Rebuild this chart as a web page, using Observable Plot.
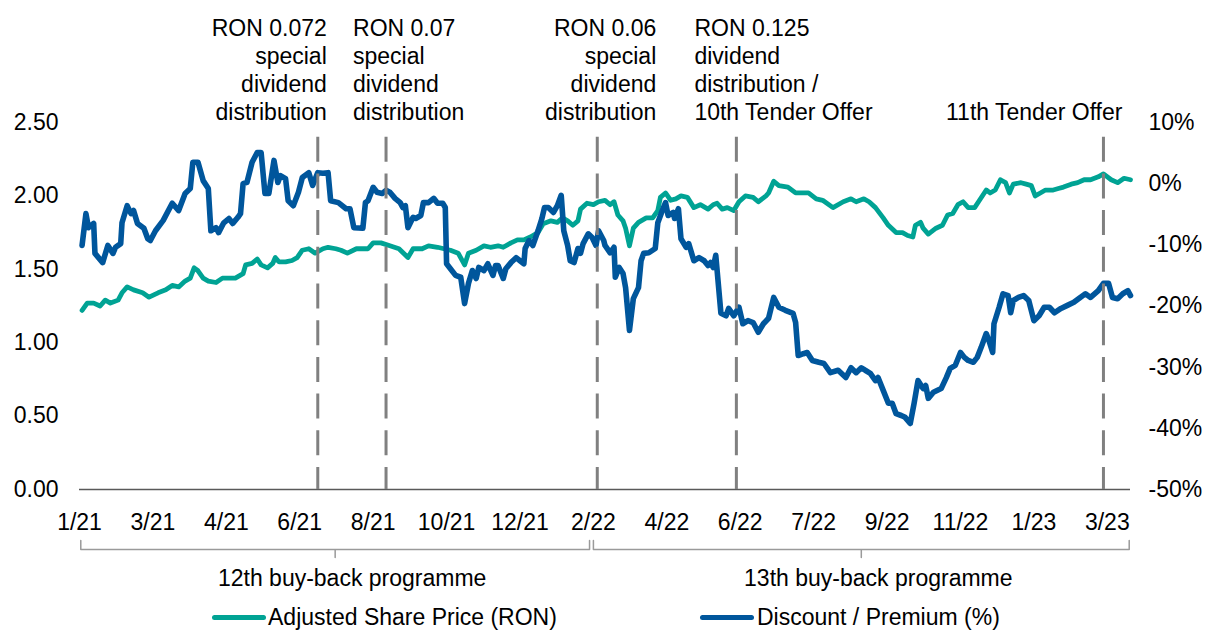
<!DOCTYPE html>
<html>
<head>
<meta charset="utf-8">
<script src="https://cdn.jsdelivr.net/npm/d3@7"></script>
<script src="https://cdn.jsdelivr.net/npm/@observablehq/plot@0.6"></script>
<style>
html, body { margin: 0; padding: 0; background: #fff; overflow: hidden; }
body { font-family: Arial, "Liberation Sans", sans-serif; }
#legend { position: relative; width: 1215px; height: 38px; font-size: 23px; color: #000; }
#legend .sw { position: absolute; top: 20px; height: 5px; width: 54px; border-radius: 3px; }
#legend .lt { position: absolute; top: 8px; line-height: 28px; white-space: nowrap; }
</style>
</head>
<body>
<div id="chart"></div>
<div id="legend"></div>
<script>
// ---------- data ----------
const seriesNames = ["Adjusted Share Price (RON)", "Discount / Premium (%)"];
const seriesColors = ["#00A394", "#00569C"];

// Adjusted share price (RON), left axis
const priceSeries = [["2021-01-06",1.22],["2021-01-10",1.27],["2021-01-15",1.27],["2021-01-20",1.25],["2021-01-24",1.29],["2021-01-28",1.27],["2021-02-03",1.29],["2021-02-06",1.34],["2021-02-10",1.38],["2021-02-15",1.36],["2021-02-22",1.34],["2021-02-27",1.31],["2021-03-06",1.34],["2021-03-12",1.36],["2021-03-17",1.39],["2021-03-22",1.38],["2021-03-27",1.42],["2021-03-31",1.44],["2021-04-03",1.51],["2021-04-06",1.49],["2021-04-10",1.44],["2021-04-14",1.42],["2021-04-20",1.41],["2021-04-25",1.44],["2021-04-30",1.44],["2021-05-05",1.44],["2021-05-11",1.47],["2021-05-13",1.53],["2021-05-18",1.54],["2021-05-22",1.57],["2021-05-25",1.53],["2021-05-30",1.51],["2021-06-03",1.54],["2021-06-05",1.58],["2021-06-08",1.55],["2021-06-13",1.55],["2021-06-18",1.56],["2021-06-22",1.58],["2021-06-26",1.63],["2021-07-01",1.64],["2021-07-06",1.61],["2021-07-12",1.64],["2021-07-16",1.65],["2021-07-22",1.64],["2021-07-26",1.63],["2021-07-31",1.61],["2021-08-07",1.64],["2021-08-16",1.64],["2021-08-20",1.68],["2021-08-26",1.68],["2021-09-02",1.66],["2021-09-09",1.64],["2021-09-16",1.58],["2021-09-20",1.64],["2021-09-27",1.64],["2021-10-02",1.66],["2021-10-09",1.65],["2021-10-14",1.64],["2021-10-19",1.63],["2021-10-25",1.61],["2021-10-30",1.53],["2021-11-02",1.61],["2021-11-08",1.63],["2021-11-14",1.66],["2021-11-19",1.65],["2021-11-25",1.66],["2021-11-29",1.65],["2021-12-05",1.68],["2021-12-10",1.70],["2021-12-15",1.70],["2021-12-20",1.72],["2021-12-26",1.75],["2021-12-30",1.81],["2022-01-05",1.83],["2022-01-10",1.82],["2022-01-14",1.85],["2022-01-18",1.83],["2022-01-22",1.80],["2022-01-26",1.83],["2022-01-28",1.91],["2022-02-02",1.95],["2022-02-07",1.94],["2022-02-11",1.96],["2022-02-16",1.97],["2022-02-20",1.94],["2022-02-23",1.96],["2022-02-26",1.87],["2022-03-02",1.83],["2022-03-04",1.78],["2022-03-07",1.66],["2022-03-10",1.78],["2022-03-14",1.82],["2022-03-20",1.85],["2022-03-25",1.85],["2022-03-29",1.90],["2022-03-31",1.99],["2022-04-04",2.02],["2022-04-08",1.97],["2022-04-12",1.98],["2022-04-16",2.00],["2022-04-21",1.99],["2022-04-26",1.92],["2022-05-01",1.94],["2022-05-07",1.91],["2022-05-11",1.94],["2022-05-14",1.95],["2022-05-18",1.91],["2022-05-22",1.92],["2022-05-27",1.90],["2022-05-31",1.96],["2022-06-05",2.00],["2022-06-11",1.99],["2022-06-15",1.96],["2022-06-21",2.00],["2022-06-23",2.02],["2022-06-27",2.10],["2022-07-01",2.07],["2022-07-08",2.06],["2022-07-14",2.02],["2022-07-19",2.02],["2022-07-24",2.02],["2022-07-30",1.98],["2022-08-04",1.97],["2022-08-12",1.92],["2022-08-20",1.96],["2022-08-26",1.98],["2022-08-30",1.96],["2022-09-05",1.98],["2022-09-09",1.96],["2022-09-14",1.92],["2022-09-20",1.85],["2022-09-24",1.80],["2022-09-30",1.75],["2022-10-05",1.75],["2022-10-09",1.73],["2022-10-13",1.72],["2022-10-15",1.80],["2022-10-19",1.82],["2022-10-21",1.78],["2022-10-25",1.74],["2022-10-31",1.78],["2022-11-05",1.80],["2022-11-09",1.87],["2022-11-13",1.88],["2022-11-17",1.94],["2022-11-21",1.96],["2022-11-25",1.92],["2022-11-30",1.92],["2022-12-03",1.96],["2022-12-09",2.04],["2022-12-12",2.02],["2022-12-16",2.04],["2022-12-20",2.11],["2022-12-24",2.09],["2022-12-27",2.02],["2022-12-30",2.08],["2023-01-05",2.09],["2023-01-09",2.08],["2023-01-13",2.07],["2023-01-16",2.00],["2023-01-20",2.02],["2023-01-24",2.04],["2023-01-30",2.04],["2023-02-03",2.05],["2023-02-07",2.06],["2023-02-13",2.08],["2023-02-18",2.09],["2023-02-23",2.11],["2023-02-28",2.11],["2023-03-06",2.13],["2023-03-10",2.15],["2023-03-16",2.11],["2023-03-21",2.09],["2023-03-26",2.12],["2023-03-31",2.11]];

// Discount / premium (%), right axis
const discountSeries = [["2021-01-06",-10.1],["2021-01-09",-4.9],["2021-01-11",-7.2],["2021-01-15",-6.5],["2021-01-16",-11.4],["2021-01-22",-12.9],["2021-01-26",-10.1],["2021-01-30",-11.4],["2021-02-01",-10.4],["2021-02-05",-9.8],["2021-02-06",-6.4],["2021-02-10",-3.6],["2021-02-13",-4.9],["2021-02-15",-4.4],["2021-02-18",-6.5],["2021-02-23",-7.3],["2021-02-26",-9.0],["2021-02-28",-9.3],["2021-03-04",-7.7],["2021-03-10",-6.0],["2021-03-17",-3.2],["2021-03-22",-4.4],["2021-03-27",-1.6],["2021-03-31",-0.8],["2021-04-02",3.5],["2021-04-06",3.5],["2021-04-10",0.5],["2021-04-14",-0.8],["2021-04-16",-7.7],["2021-04-20",-7.2],["2021-04-22",-8.0],["2021-04-26",-6.4],["2021-04-30",-5.7],["2021-05-03",-6.5],["2021-05-07",-5.5],["2021-05-09",-4.9],["2021-05-11",0.0],["2021-05-14",0.2],["2021-05-18",3.5],["2021-05-22",5.1],["2021-05-25",5.1],["2021-05-28",-1.6],["2021-05-31",-1.6],["2021-06-04",3.8],["2021-06-07",0.2],["2021-06-09",1.3],["2021-06-13",0.8],["2021-06-15",-2.8],["2021-06-19",-3.6],["2021-06-23",-1.4],["2021-06-26",1.0],["2021-07-01",1.8],["2021-07-04",-0.3],["2021-07-08",1.8],["2021-07-12",1.7],["2021-07-16",1.8],["2021-07-18",-2.8],["2021-07-24",-3.1],["2021-07-30",-4.1],["2021-08-02",-4.1],["2021-08-05",-7.2],["2021-08-12",-7.3],["2021-08-14",-3.1],["2021-08-16",-2.8],["2021-08-20",-0.6],["2021-08-23",-1.4],["2021-08-27",-1.6],["2021-08-30",-1.1],["2021-09-02",-1.4],["2021-09-06",-2.4],["2021-09-10",-3.1],["2021-09-12",-3.9],["2021-09-14",-3.6],["2021-09-16",-7.2],["2021-09-20",-5.5],["2021-09-22",-5.7],["2021-09-26",-5.2],["2021-09-28",-3.1],["2021-10-02",-3.1],["2021-10-06",-2.4],["2021-10-09",-3.2],["2021-10-13",-3.2],["2021-10-15",-3.9],["2021-10-16",-13.1],["2021-10-19",-13.9],["2021-10-23",-15.0],["2021-10-27",-15.3],["2021-10-30",-19.6],["2021-11-02",-16.3],["2021-11-05",-14.2],["2021-11-08",-15.5],["2021-11-10",-13.7],["2021-11-14",-14.2],["2021-11-17",-13.1],["2021-11-21",-15.0],["2021-11-23",-13.4],["2021-11-25",-13.4],["2021-11-29",-15.5],["2021-12-01",-13.9],["2021-12-05",-12.9],["2021-12-09",-12.1],["2021-12-12",-12.6],["2021-12-15",-13.1],["2021-12-16",-10.6],["2021-12-19",-9.3],["2021-12-22",-10.1],["2021-12-26",-7.7],["2021-12-29",-5.7],["2021-12-31",-3.9],["2022-01-03",-3.9],["2022-01-07",-4.7],["2022-01-10",-3.6],["2022-01-13",-1.9],["2022-01-15",-7.7],["2022-01-18",-10.1],["2022-01-20",-12.6],["2022-01-23",-12.9],["2022-01-26",-10.6],["2022-01-28",-11.4],["2022-01-30",-9.8],["2022-02-03",-8.2],["2022-02-06",-8.8],["2022-02-09",-10.1],["2022-02-11",-7.7],["2022-02-15",-9.3],["2022-02-16",-10.1],["2022-02-20",-11.3],["2022-02-23",-10.4],["2022-02-24",-15.3],["2022-02-27",-13.7],["2022-03-02",-14.7],["2022-03-04",-17.0],["2022-03-07",-24.0],["2022-03-10",-18.8],["2022-03-14",-17.0],["2022-03-16",-12.6],["2022-03-18",-11.4],["2022-03-22",-11.3],["2022-03-27",-10.6],["2022-03-29",-6.4],["2022-04-02",-4.1],["2022-04-04",-3.1],["2022-04-06",-5.2],["2022-04-10",-4.7],["2022-04-11",-5.7],["2022-04-14",-4.1],["2022-04-16",-9.0],["2022-04-20",-10.4],["2022-04-22",-9.8],["2022-04-26",-12.6],["2022-04-30",-12.1],["2022-05-04",-12.6],["2022-05-07",-13.4],["2022-05-09",-12.9],["2022-05-11",-13.7],["2022-05-13",-11.7],["2022-05-17",-21.2],["2022-05-21",-21.6],["2022-05-23",-20.4],["2022-05-27",-21.6],["2022-05-31",-20.2],["2022-06-03",-22.9],["2022-06-07",-22.4],["2022-06-11",-22.7],["2022-06-15",-24.3],["2022-06-19",-22.9],["2022-06-23",-22.0],["2022-06-27",-18.6],["2022-07-01",-20.2],["2022-07-06",-20.7],["2022-07-12",-21.2],["2022-07-14",-22.7],["2022-07-16",-28.1],["2022-07-20",-27.8],["2022-07-23",-27.6],["2022-07-27",-28.9],["2022-08-01",-29.2],["2022-08-05",-29.4],["2022-08-10",-30.9],["2022-08-16",-30.5],["2022-08-22",-31.7],["2022-08-26",-30.1],["2022-08-30",-30.9],["2022-09-03",-30.1],["2022-09-06",-30.5],["2022-09-10",-31.0],["2022-09-14",-32.2],["2022-09-16",-31.7],["2022-09-20",-33.8],["2022-09-24",-35.9],["2022-09-27",-35.9],["2022-09-30",-37.6],["2022-10-04",-37.9],["2022-10-07",-38.2],["2022-10-11",-39.2],["2022-10-14",-35.9],["2022-10-17",-32.2],["2022-10-21",-33.5],["2022-10-23",-33.0],["2022-10-25",-35.1],["2022-10-29",-34.1],["2022-11-04",-33.5],["2022-11-08",-31.7],["2022-11-11",-30.2],["2022-11-15",-29.7],["2022-11-19",-27.6],["2022-11-22",-28.4],["2022-11-25",-28.9],["2022-11-29",-29.2],["2022-12-02",-28.4],["2022-12-05",-26.8],["2022-12-09",-24.5],["2022-12-11",-25.6],["2022-12-14",-27.6],["2022-12-15",-22.9],["2022-12-19",-20.2],["2022-12-22",-18.0],["2022-12-26",-18.3],["2022-12-28",-21.1],["2022-12-30",-19.1],["2023-01-03",-18.6],["2023-01-07",-18.3],["2023-01-11",-19.1],["2023-01-15",-22.4],["2023-01-19",-21.6],["2023-01-23",-20.2],["2023-01-27",-20.2],["2023-01-31",-21.1],["2023-02-05",-20.4],["2023-02-10",-19.9],["2023-02-15",-19.4],["2023-02-20",-18.6],["2023-02-24",-18.0],["2023-02-28",-18.6],["2023-03-06",-17.5],["2023-03-10",-16.3],["2023-03-14",-16.3],["2023-03-17",-18.6],["2023-03-21",-18.8],["2023-03-25",-18.0],["2023-03-29",-17.5],["2023-03-31",-18.3]];

// axes
const xDomain = ["2021-01-04", "2023-03-31"];
const xTickDates = ["2021-01-04","2021-03-02","2021-04-28","2021-06-24","2021-08-20","2021-10-16","2021-12-12","2022-02-07","2022-04-05","2022-06-01","2022-07-28","2022-09-23","2022-11-19","2023-01-15","2023-03-13"];
const xTickLabels = ["1/21","3/21","4/21","6/21","8/21","10/21","12/21","2/22","4/22","6/22","7/22","9/22","11/22","1/23","3/23"];
const leftTicks = [0, 0.5, 1.0, 1.5, 2.0, 2.5];
const rightTicks = [-50, -40, -30, -20, -10, 0, 10];
const rightMin = -50, rightMax = 10; // right axis spans the same height as 0..2.5

// events
const eventDates = ["2021-07-08", "2021-08-30", "2022-02-10", "2022-05-29", "2023-03-10"];
const eventLabels = [
  "RON 0.072\nspecial\ndividend\ndistribution",
  "RON 0.07\nspecial\ndividend\ndistribution",
  "RON 0.06\nspecial\ndividend\ndistribution",
  "RON 0.125\ndividend\ndistribution /\n10th Tender Offer",
  "11th Tender Offer"
];
const eventAnchors = ["end", "start", "end", "start", "end"];
const eventDx = [9, -33, 59, -42, 19];
const eventDy = [-106, -106, -106, -106, -22];

// buy-back programmes
const programmeNames = ["12th buy-back programme", "13th buy-back programme"];
const programmeStarts = ["2021-01-05", "2022-02-07"];
const programmeEnds = ["2022-02-04", "2023-03-30"];

// ---------- build ----------
const parse = s => new Date(s + "T00:00:00Z");
const yTop = 2.5;
const toLeft = p => (p - rightMin) / (rightMax - rightMin) * yTop;

const price = priceSeries.map(([d, v]) => ({date: parse(d), value: v}));
const discount = discountSeries.map(([d, v]) => ({date: parse(d), pct: v, value: toLeft(v)}));
const tickDates = xTickDates.map(parse);
const labelOf = new Map(tickDates.map((d, i) => [+d, xTickLabels[i]]));
const events = eventDates.map((d, i) => ({date: parse(d), label: eventLabels[i], anchor: eventAnchors[i], dx: eventDx[i], dy: eventDy[i]}));

// bracket geometry (in y-scale units below the axis)
const bTop = -0.347, bMid = -0.409, bNotch = -0.463;
const brackets = [];
const progs = programmeNames.map((name, i) => {
  const s = parse(programmeStarts[i]), e = parse(programmeEnds[i]);
  const m = new Date((+s + +e) / 2);
  [[s, bTop], [s, bMid], [m, bMid], [m, bNotch], [m, bMid], [e, bMid], [e, bTop]]
    .forEach(([x, y]) => brackets.push({x, y, z: i}));
  return {name, mid: m};
});

const FONT = 'Arial, "Liberation Sans", sans-serif';

const chart = Plot.plot({
  width: 1215,
  height: 595,
  marginLeft: 79,
  marginRight: 85,
  marginTop: 122,
  marginBottom: 106,
  style: {fontFamily: FONT, fontSize: "23px", color: "#000", background: "#fff", overflow: "visible"},
  x: {type: "utc", domain: xDomain.map(parse)},
  y: {domain: [0, yTop]},
  marks: [
    Plot.ruleY([0], {stroke: "#595959", strokeWidth: 1.5}),
    Plot.axisY(leftTicks, {anchor: "left", tickSize: 0, tickPadding: 21, tickFormat: d3.format(".2f"), label: null}),
    Plot.axisY(rightTicks.map(toLeft), {anchor: "right", tickSize: 0, tickPadding: 18,
      tickFormat: d => Math.round(d / yTop * (rightMax - rightMin) + rightMin) + "%", label: null}),
    Plot.axisX(tickDates, {tickSize: 0, tickPadding: 24, tickFormat: d => labelOf.get(+d), label: null}),
    Plot.line(price, {x: "date", y: "value", stroke: seriesColors[0], strokeWidth: 4.8, strokeLinejoin: "round", strokeLinecap: "round"}),
    Plot.line(discount, {x: "date", y: "value", stroke: seriesColors[1], strokeWidth: 5.6, strokeLinejoin: "round", strokeLinecap: "round"}),
    Plot.ruleX(events, {x: "date", y1: 2.4, y2: 0, stroke: "#808080", strokeWidth: 3, strokeDasharray: "25,11.7"}),
    ...events.map(ev => Plot.text([ev], {
      x: "date", text: "label", frameAnchor: "top", textAnchor: ev.anchor,
      lineAnchor: "top", lineHeight: 28 / 23, dx: ev.dx, dy: ev.dy, fill: "#000", fontSize: 23
    })),
    Plot.line(brackets, {x: "x", y: "y", z: "z", stroke: "#9a9a9a", strokeWidth: 1.5}),
    Plot.text(progs, {x: "mid", text: "name", frameAnchor: "bottom", lineAnchor: "middle", dy: 89, dx: 17, fill: "#000", fontSize: 23})
  ]
});
document.getElementById("chart").appendChild(chart);

// legend
const legend = document.getElementById("legend");
const legendPos = [[212, 268], [700, 757]];
seriesNames.forEach((name, i) => {
  const sw = document.createElement("div");
  sw.className = "sw";
  sw.style.left = legendPos[i][0] + "px";
  sw.style.background = seriesColors[i];
  legend.appendChild(sw);
  const t = document.createElement("div");
  t.className = "lt";
  t.style.left = legendPos[i][1] + "px";
  t.textContent = name;
  legend.appendChild(t);
});
</script>
</body>
</html>
